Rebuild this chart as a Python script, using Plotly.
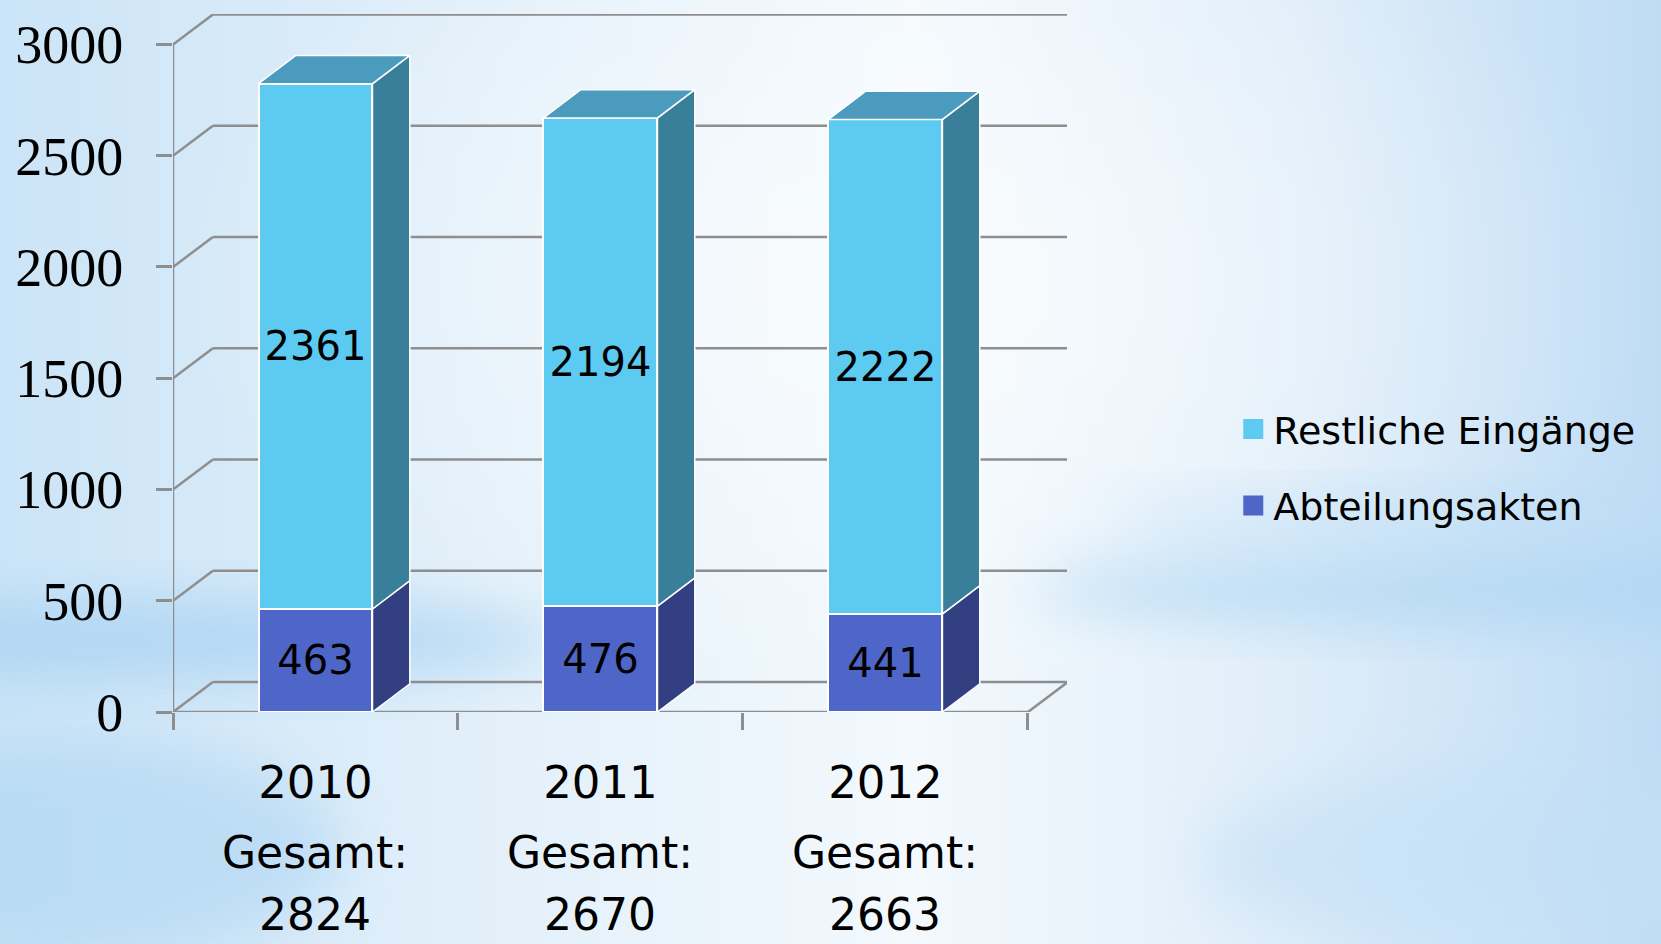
import base64
import plotly.graph_objects as go

# ---------------- data ----------------
years = ["2010", "2011", "2012"]
abteilungsakten = [463, 476, 441]
restliche = [2361, 2194, 2222]
name_abt = "Abteilungsakten"
name_rest = "Restliche Eingänge"
y_ticks = [0, 500, 1000, 1500, 2000, 2500, 3000]
total_word = "Gesamt:"

totals = [a + r for a, r in zip(abteilungsakten, restliche)]
xpos = list(range(len(years)))

# ---------------- geometry / style ----------------
X_MIN, X_MAX = -0.5, 2.637
Y_MAX = 3137
BAR_W = 0.4
WALL_DX, WALL_DY = 0.140, 135.0
BAR_DX, BAR_DY = 0.131, 127.0

GRID = "#8e8e8e"
C_REST_FRONT = "#5dcaf1"
C_REST_SIDE = "#3a7f9a"
C_REST_TOP = "#4a9bbd"
C_ABT_FRONT = "#4e66c7"
C_ABT_SIDE = "#323f80"
FONT = "DejaVu Sans"

W, H = 1661, 944
ML, MR, MT, MB = 173, 594, 14, 232
PW, PH = W - ML - MR, H - MT - MB

# ---------------- background (svg gradient) ----------------
svg = f"""<svg xmlns='http://www.w3.org/2000/svg' width='{W}' height='{H}'>
<defs>
<linearGradient id='h' x1='0' y1='0' x2='1' y2='0'>
<stop offset='0' stop-color='#cbe4f7'/>
<stop offset='0.3' stop-color='#e3f0fa'/>
<stop offset='0.55' stop-color='#f3f9fd'/>
<stop offset='0.78' stop-color='#dfedf9'/>
<stop offset='1' stop-color='#bfdcf5'/>
</linearGradient>
<radialGradient id='w' cx='0.55' cy='0.3' r='0.45'>
<stop offset='0' stop-color='#ffffff' stop-opacity='0.6'/>
<stop offset='1' stop-color='#ffffff' stop-opacity='0'/>
</radialGradient>
<filter id='b' x='-50%' y='-50%' width='200%' height='200%'><feGaussianBlur stdDeviation='28'/></filter>
</defs>
<rect width='{W}' height='{H}' fill='url(#h)'/>
<rect width='{W}' height='{H}' fill='url(#w)'/>
<ellipse cx='180' cy='640' rx='380' ry='40' fill='#a6d1f2' opacity='0.75' filter='url(#b)'/>
<ellipse cx='1450' cy='590' rx='420' ry='35' fill='#acd5f3' opacity='0.7' filter='url(#b)'/>
<ellipse cx='1400' cy='520' rx='300' ry='25' fill='#b8dbf5' opacity='0.5' filter='url(#b)'/>
<ellipse cx='80' cy='850' rx='260' ry='110' fill='#b3d8f4' opacity='0.7' filter='url(#b)'/>
<ellipse cx='1500' cy='860' rx='300' ry='90' fill='#c3e0f6' opacity='0.6' filter='url(#b)'/>
</svg>"""
bg_uri = "data:image/svg+xml;base64," + base64.b64encode(svg.encode()).decode()

fig = go.Figure()

# legend entries (larger square symbols than the bar legend allows)
for nm, col, grp in [(name_rest, C_REST_FRONT, "rest"), (name_abt, C_ABT_FRONT, "abt")]:
    fig.add_trace(go.Scatter(
        x=[None], y=[None], mode="markers", name=nm, legendgroup=grp,
        marker=dict(symbol="square", size=16, color=col, line=dict(color=col, width=4)),
        hoverinfo="skip",
    ))

# front faces (stacked bars)
fig.add_trace(go.Bar(
    x=xpos, y=abteilungsakten, name=name_abt, width=BAR_W,
    marker=dict(color=C_ABT_FRONT, line=dict(color="white", width=2)),
    text=[str(v) for v in abteilungsakten], textposition="inside",
    insidetextanchor="middle", textangle=0, constraintext="none",
    textfont=dict(family=FONT, size=40, color="black"),
    legendgroup="abt", showlegend=False, hoverinfo="y+name",
))
fig.add_trace(go.Bar(
    x=xpos, y=restliche, name=name_rest, width=BAR_W,
    marker=dict(color=C_REST_FRONT, line=dict(color="white", width=2)),
    text=[str(v) for v in restliche], textposition="inside",
    insidetextanchor="middle", textangle=0, constraintext="none",
    textfont=dict(family=FONT, size=40, color="black"),
    legendgroup="rest", showlegend=False, hoverinfo="y+name",
))


def side_faces(bases, tops):
    xs, ys = [], []
    for i, b, t in zip(xpos, bases, tops):
        xr = i + BAR_W / 2
        xs += [xr, xr + BAR_DX, xr + BAR_DX, xr, xr, None]
        ys += [b, b + BAR_DY, t + BAR_DY, t, b, None]
    return xs, ys


def top_faces(tops):
    xs, ys = [], []
    for i, t in zip(xpos, tops):
        xl, xr = i - BAR_W / 2, i + BAR_W / 2
        xs += [xl, xr, xr + BAR_DX, xl + BAR_DX, xl, None]
        ys += [t, t, t + BAR_DY, t + BAR_DY, t, None]
    return xs, ys


sx, sy = side_faces([0] * len(xpos), abteilungsakten)
fig.add_trace(go.Scatter(x=sx, y=sy, mode="lines", fill="toself", fillcolor=C_ABT_SIDE,
                         line=dict(color="white", width=1.5), showlegend=False,
                         legendgroup="abt", hoverinfo="skip"))
sx, sy = side_faces(abteilungsakten, totals)
fig.add_trace(go.Scatter(x=sx, y=sy, mode="lines", fill="toself", fillcolor=C_REST_SIDE,
                         line=dict(color="white", width=1.5), showlegend=False,
                         legendgroup="rest", hoverinfo="skip"))
tx, ty = top_faces(totals)
fig.add_trace(go.Scatter(x=tx, y=ty, mode="lines", fill="toself", fillcolor=C_REST_TOP,
                         line=dict(color="white", width=1.5), showlegend=False,
                         legendgroup="rest", hoverinfo="skip"))

# 3D walls / gridlines (behind bars)
shapes = []
x_left, x_right = xpos[0] - 0.5, xpos[-1] + 0.5
for v in y_ticks:
    shapes.append(dict(type="line", xref="x", yref="y", layer="below",
                       x0=x_left, y0=v, x1=x_left + WALL_DX, y1=v + WALL_DY,
                       line=dict(color=GRID, width=2.5)))
    shapes.append(dict(type="line", xref="x", yref="y", layer="below",
                       x0=x_left + WALL_DX, y0=v + WALL_DY, x1=x_right + WALL_DX, y1=v + WALL_DY,
                       line=dict(color=GRID, width=2.5)))
# floor right edge, front edge (x axis line), y axis line
shapes.append(dict(type="line", xref="x", yref="y", layer="below",
                   x0=x_right, y0=0, x1=x_right + WALL_DX, y1=WALL_DY,
                   line=dict(color=GRID, width=2.5)))
shapes.append(dict(type="line", xref="x", yref="y", layer="below",
                   x0=x_left, y0=0, x1=x_right, y1=0, line=dict(color=GRID, width=2.5)))
shapes.append(dict(type="line", xref="x", yref="y", layer="below",
                   x0=x_left, y0=0, x1=x_left, y1=y_ticks[-1], line=dict(color=GRID, width=2.5)))

annotations = []
for i, tot in zip(xpos, totals):
    annotations.append(dict(x=i, xref="x", y=0, yref="paper", yanchor="middle", yshift=-140,
                            text=total_word, showarrow=False,
                            font=dict(family=FONT, size=44, color="black")))
    annotations.append(dict(x=i, xref="x", y=0, yref="paper", yanchor="middle", yshift=-202,
                            text=str(tot), showarrow=False,
                            font=dict(family=FONT, size=44, color="black")))

fig.update_layout(
    width=W, height=H,
    margin=dict(l=ML, r=MR, t=MT, b=MB, pad=0),
    barmode="stack",
    paper_bgcolor="#dcedf9",
    plot_bgcolor="rgba(0,0,0,0)",
    shapes=shapes,
    annotations=annotations,
    images=[dict(source=bg_uri, xref="paper", yref="paper",
                 x=-ML / PW, y=1 + MT / PH, sizex=W / PW, sizey=H / PH,
                 xanchor="left", yanchor="top", sizing="stretch", layer="below")],
    xaxis=dict(range=[X_MIN, X_MAX], tickmode="array", tickvals=xpos, ticktext=years,
               ticks="", showline=False, showgrid=False, zeroline=False,
               tickfont=dict(family=FONT, size=45, color="black"),
               ticklabelstandoff=40,
               minor=dict(tickmode="array", tickvals=[x_left + k for k in range(len(xpos) + 1)],
                          ticks="outside", ticklen=17, tickwidth=2.5, tickcolor=GRID,
                          showgrid=False)),
    yaxis=dict(range=[0, Y_MAX], tickmode="array", tickvals=y_ticks,
               ticks="outside", ticklen=16, tickwidth=2.5, tickcolor=GRID,
               showline=False, showgrid=False, zeroline=False,
               tickfont=dict(family="Liberation Serif", size=54, color="black"),
               ticklabelstandoff=22),
    legend=dict(x=1.186, y=0.45, xanchor="left", yanchor="top",
                traceorder="grouped", tracegroupgap=24,
                font=dict(family=FONT, size=38, color="black"),
                bgcolor="rgba(0,0,0,0)", itemwidth=30),
    showlegend=True,
)

fig.write_html("out.html", config={"displayModeBar": False},
               post_script="document.body.style.margin='0';document.body.style.overflow='hidden';")
